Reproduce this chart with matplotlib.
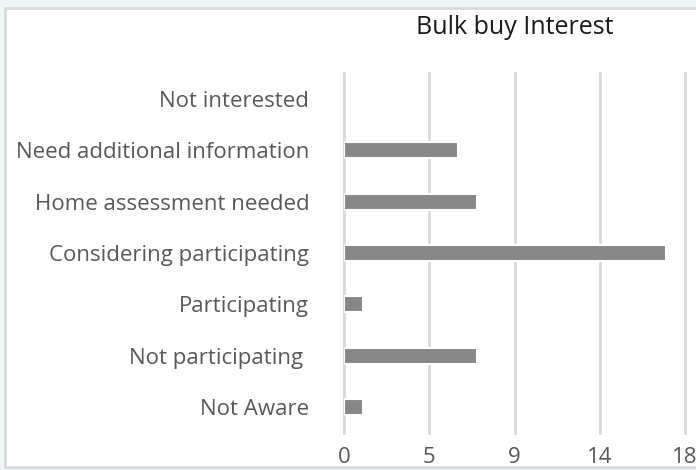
import matplotlib
matplotlib.use("Agg")
import matplotlib.pyplot as plt
from matplotlib.patches import Rectangle

categories = ["Not interested", "Need additional information", "Home assessment needed",
              "Considering participating", "Participating", "Not participating ", "Not Aware"]
values = [0, 6, 7, 17, 1, 7, 1]
tick_values = [0, 4.5, 9, 13.5, 18]
tick_labels = ["0", "5", "9", "14", "18"]
title = "Bulk buy Interest"

plt.rcParams['font.family'] = ['Open Sans', 'DejaVu Sans']

W, H = 696, 470
fig = plt.figure(figsize=(W / 100, H / 100), dpi=100)
fig.patch.set_facecolor("#eef6fa")
fig.patches.append(Rectangle((5 / W, 1 - 467 / H), 700 / W, (467 - 8) / H,
                             transform=fig.transFigure, facecolor="white",
                             edgecolor="#d9d9d9", linewidth=2, zorder=-5))

ax = fig.add_axes([344 / W, 1 - 433 / H, (685 - 344) / W, (433 - 73) / H])
ax.set_zorder(2)
ax.set_facecolor("none")
ypos = list(range(len(categories)))[::-1]
edge_widths = [0 if v == 0 else 1.5 for v in values]
ax.barh(ypos, values, height=0.31, color="#878787", edgecolor="white",
        linewidth=edge_widths, zorder=3)
ax.set_xlim(0, 18)
ax.set_ylim(-0.5, len(categories) - 0.5)
ax.set_xticks(tick_values)
ax.set_xticklabels(tick_labels)
ax.set_yticks(ypos)
ax.set_yticklabels(categories)
for s in ax.spines.values():
    s.set_visible(False)
ax.grid(axis="x", color="#d9d9d9", linewidth=2, zorder=0)
for gl in ax.get_xgridlines():
    gl.set_clip_on(False)
ax.set_axisbelow(True)
ax.tick_params(length=0, colors="#595959", labelsize=16)
ax.tick_params(axis="y", pad=25)
ax.tick_params(axis="x", pad=10)
fig.text((344 + 685) / 2 / W, 1 - 27 / H, title, ha="center", va="center",
         fontsize=18, color="#1a1a1a")

fig.savefig("out.png", dpi=100, facecolor=fig.get_facecolor())
